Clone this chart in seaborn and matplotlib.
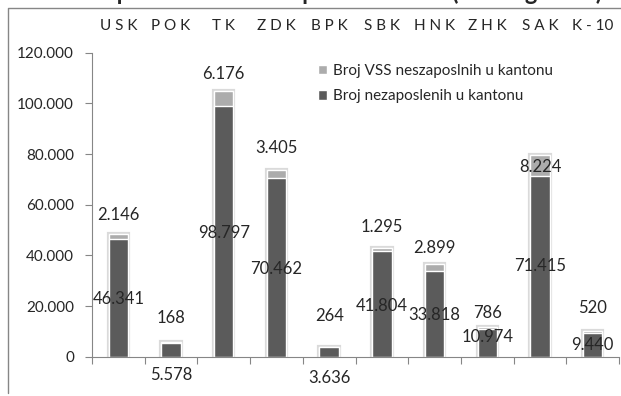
import numpy as np
import pandas as pd
import seaborn as sns
from matplotlib import pyplot as plt
from matplotlib.patches import Patch
from matplotlib.lines import Line2D
from matplotlib.ticker import FuncFormatter
import matplotlib.patheffects as pe

cantons = ['USK', 'POK', 'TK', 'ZDK', 'BPK', 'SBK', 'HNK', 'ZHK', 'SAK', 'K-10']
tick_labels = ['U S K', 'P O K', 'T K', 'Z D K', 'B P K', 'S B K', 'H N K', 'Z H K', 'S A K', 'K - 10']
unemployed = [46341, 5578, 98797, 70462, 3636, 41804, 33818, 10974, 71415, 9440]
unemployed_vss = [2146, 168, 6176, 3405, 264, 1295, 2899, 786, 8224, 520]

# where the data labels sit (y, data units), moved by hand in the original
label_y_unemployed = [22800, -7200, 48900, 34700, -8400, 20000, 16500, 7800, 35900, 4600]
label_y_vss = [56000, 15300, 111700, 82500, 16100, 51300, 43000, 17300, 75000, 19200]

title = 'Nezaposlenost u FBiH po kantonima (2012. godina)'
name_vss = 'Broj VSS neszaposlnih u kantonu'
name_all = 'Broj nezaposlenih u kantonu'

light = '#acacac'
dark = '#5b5b5b'
grey = '#868686'


def thousands(v):
    return f'{v:,.0f}'.replace(',', '.')


df = pd.DataFrame({'kanton': cantons, 'nezaposleni': unemployed, 'vss': unemployed_vss})
df['ukupno'] = df['nezaposleni'] + df['vss']

sns.set_style('white')
plt.rcParams['font.family'] = ['Lato', 'DejaVu Sans']

fig = plt.figure(figsize=(6.21, 3.96), dpi=100)
ax = fig.add_axes([92 / 621, 1 - 356.7 / 396, 527 / 621, 304 / 396])

# total first (light top part), then the dark part over it
sns.barplot(data=df, x='kanton', y='ukupno', order=cantons, color=light, saturation=1,
            width=0.37, edgecolor='white', linewidth=1.0, errorbar=None, ax=ax)
for p in ax.patches:
    p.set_path_effects([pe.Stroke(linewidth=3, foreground='#dadada'), pe.Normal()])
sns.barplot(data=df, x='kanton', y='nezaposleni', order=cantons, color=dark, saturation=1,
            width=0.37, edgecolor='white', linewidth=1.0, errorbar=None, ax=ax)

for i in range(len(cantons)):
    ax.text(i, label_y_vss[i], thousands(unemployed_vss[i]), ha='center', va='center', fontsize=12)
    ax.text(i, label_y_unemployed[i], thousands(unemployed[i]), ha='center', va='center',
            fontsize=12, clip_on=False)

ax.set_xlim(-0.5, 9.5)
ax.set_ylim(0, 120000)
ax.set_yticks(np.arange(0, 120001, 20000))
ax.yaxis.set_major_formatter(FuncFormatter(lambda v, pos: thousands(v)))
ax.set_xticks(range(len(cantons)))
ax.set_xticklabels(tick_labels)
ax.set_xticks(np.arange(-0.5, 10, 1), minor=True)
ax.set_xlabel('')
ax.set_ylabel('')

ax.tick_params(axis='x', which='major', bottom=False, top=False, labelbottom=False,
               labeltop=True, pad=11, labelsize=11)
ax.tick_params(axis='x', which='minor', bottom=True, length=5, width=0.8, color=grey)
ax.tick_params(axis='y', left=True, length=5, width=0.8, color=grey, pad=8, labelsize=11)

sns.despine(ax=ax, top=True, right=True)
for s in ['left', 'bottom']:
    ax.spines[s].set_color(grey)
    ax.spines[s].set_linewidth(0.8)

fig.legend(handles=[Patch(facecolor=light, label=name_vss), Patch(facecolor=dark, label=name_all)],
           loc='upper left', bbox_to_anchor=(318 / 621, 1 - 64 / 396), frameon=False,
           fontsize=11, handlelength=0.6, handleheight=0.6, handletextpad=0.4,
           labelspacing=0.75, borderpad=0, borderaxespad=0)

# outer chart frame (only top and left edges are inside the picture)
fig.add_artist(Line2D([8 / 621, 8 / 621, 1.0], [3 / 396, 388 / 396, 388 / 396],
                      transform=fig.transFigure, color=grey, linewidth=1))
# title sits above the frame and is cut off by the image edge, as in the source
fig.text(0.535, 1 + 0.5 / 396, title, ha='center', va='baseline', fontsize=17, fontweight='bold')

fig.savefig('out.png', dpi=100)
